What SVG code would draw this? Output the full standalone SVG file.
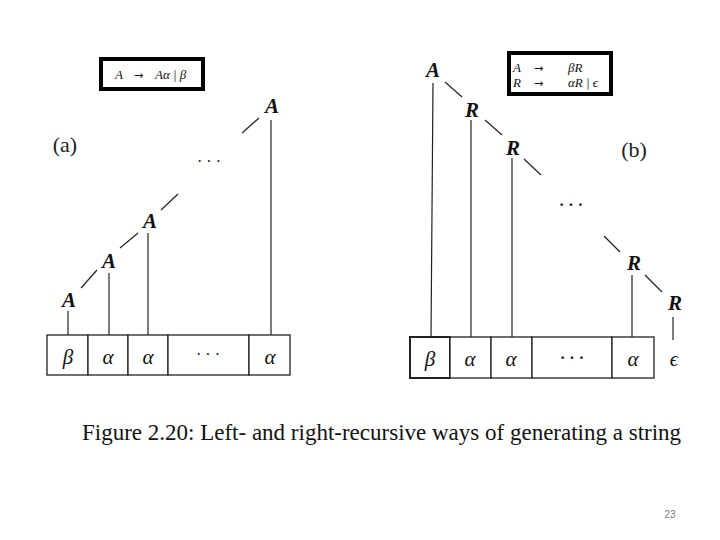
<svg xmlns="http://www.w3.org/2000/svg" width="720" height="540" viewBox="0 0 720 540">
<style>
.bg{fill:#fff}
.frm{fill:none;stroke:#000;stroke-width:4}
.ln{stroke:#222;stroke-width:1.2;fill:none}
.cell{fill:#fff;stroke:#222;stroke-width:1.3}
.nt{font-family:"Liberation Serif",serif;font-style:italic;font-weight:bold;font-size:21px;fill:#111;text-anchor:middle}
.sym{font-family:"Liberation Serif",serif;font-style:italic;font-size:21px;fill:#111;text-anchor:middle}
.dots{font-family:"Liberation Serif",serif;font-size:16px;fill:#111;text-anchor:middle}
.lab{font-family:"Liberation Serif",serif;font-size:22px;fill:#222;text-anchor:middle}
.rule{font-family:"Liberation Serif",serif;font-style:italic;font-size:13px;fill:#111}
.arr{font-family:"DejaVu Sans",sans-serif;font-size:11px;fill:#111}
.cap{font-family:"Liberation Serif",serif;font-size:23px;fill:#111}
.pg{font-family:"Liberation Sans",sans-serif;font-size:10px;fill:#777;text-anchor:middle}
</style>
<rect class="bg" x="0" y="0" width="720" height="540"/>

<!-- grammar boxes -->
<g id="grammar-a">
<rect class="frm" x="101" y="59" width="102" height="30"/>
<text class="rule" x="115" y="79">A</text>
<text class="arr" x="134" y="79">→</text>
<text class="rule" x="155" y="79">Aα | β</text>
</g>
<g id="grammar-b">
<rect class="frm" x="509" y="53" width="102" height="41"/>
<text class="rule" x="513" y="72">A</text>
<text class="arr" x="534" y="72">→</text>
<text class="rule" x="568" y="72">βR</text>
<text class="rule" x="513" y="87">R</text>
<text class="arr" x="534" y="87">→</text>
<text class="rule" x="568" y="87">αR | ϵ</text>
</g>

<!-- labels -->
<text class="lab" x="65" y="152">(a)</text>
<text class="lab" x="634" y="157">(b)</text>

<!-- connectors -->
<g id="connectors">
<!-- tree a -->
<line class="ln" x1="242" y1="133" x2="259" y2="118"/>
<line class="ln" x1="161" y1="210" x2="178" y2="194"/>
<line class="ln" x1="120" y1="248" x2="138" y2="233"/>
<line class="ln" x1="81" y1="288" x2="97" y2="270"/>
<line class="ln" x1="271" y1="120" x2="271" y2="336"/>
<line class="ln" x1="148" y1="233" x2="148" y2="336"/>
<line class="ln" x1="109" y1="273" x2="109" y2="336"/>
<line class="ln" x1="68" y1="311" x2="68" y2="336"/>
<!-- tree b -->
<line class="ln" x1="433" y1="83" x2="431" y2="338"/>
<line class="ln" x1="445" y1="82" x2="462" y2="97"/>
<line class="ln" x1="471" y1="120" x2="471" y2="338"/>
<line class="ln" x1="485" y1="120" x2="502" y2="135"/>
<line class="ln" x1="512" y1="158" x2="512" y2="338"/>
<line class="ln" x1="524" y1="159" x2="541" y2="175"/>
<line class="ln" x1="604" y1="236" x2="620" y2="252"/>
<line class="ln" x1="632" y1="275" x2="632" y2="338"/>
<line class="ln" x1="645" y1="275" x2="662" y2="292"/>
<line class="ln" x1="673" y1="317" x2="673" y2="340"/>
</g>

<!-- tree a nodes -->
<g id="a-A4"><text class="nt" x="272" y="113">A</text></g>
<g id="a-dots"><text class="dots" x="209" y="167">· · ·</text></g>
<g id="a-A3"><text class="nt" x="150" y="228">A</text></g>
<g id="a-A2"><text class="nt" x="109" y="268">A</text></g>
<g id="a-A1"><text class="nt" x="69" y="307">A</text></g>

<g id="a-string">
<rect class="cell" x="47" y="335" width="41" height="40"/>
<rect class="cell" x="88" y="335" width="40" height="40"/>
<rect class="cell" x="128" y="335" width="40" height="40"/>
<rect class="cell" x="168" y="335" width="81" height="40"/>
<rect class="cell" x="249" y="335" width="41" height="40"/>
<text class="sym" x="68" y="364">β</text>
<text class="sym" x="108" y="364">α</text>
<text class="sym" x="148" y="364">α</text>
<text class="dots" x="208" y="360">· · ·</text>
<text class="sym" x="270" y="364">α</text>
</g>

<!-- tree b nodes -->
<g id="b-A"><text class="nt" x="433" y="77">A</text></g>
<g id="b-R1"><text class="nt" x="472" y="117">R</text></g>
<g id="b-R2"><text class="nt" x="513" y="155">R</text></g>
<g id="b-dots"><text class="dots" x="571" y="210" style="font-weight:bold">· · ·</text></g>
<g id="b-R3"><text class="nt" x="634" y="270">R</text></g>
<g id="b-R4"><text class="nt" x="675" y="310">R</text></g>

<g id="b-string">
<rect class="cell" x="410" y="337" width="40" height="41" style="stroke-width:2"/>
<rect class="cell" x="450" y="337" width="41" height="41"/>
<rect class="cell" x="491" y="337" width="41" height="41"/>
<rect class="cell" x="532" y="337" width="80" height="41"/>
<rect class="cell" x="612" y="337" width="42" height="41"/>
<text class="sym" x="430" y="366">β</text>
<text class="sym" x="470" y="366">α</text>
<text class="sym" x="511" y="366">α</text>
<text class="dots" x="572" y="363" style="font-weight:bold">· · ·</text>
<text class="sym" x="633" y="366">α</text>
<text class="sym" x="674" y="366">ϵ</text>
</g>

<text class="cap" x="82" y="440">Figure 2.20: Left- and right-recursive ways of generating a string</text>
<text class="pg" x="670" y="518">23</text>
</svg>
